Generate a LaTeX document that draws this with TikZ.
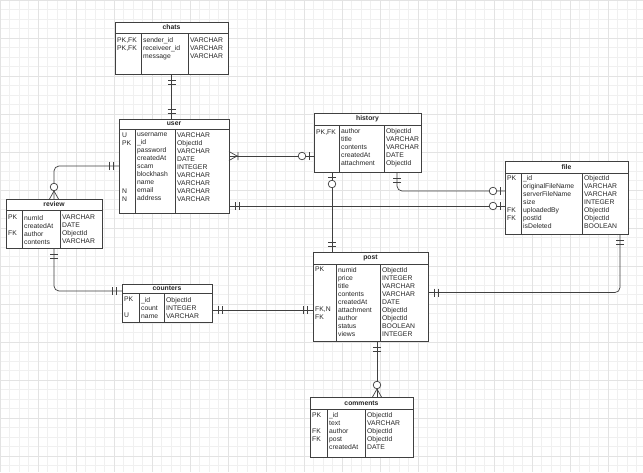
\documentclass[tikz,border=0pt]{standalone}
\usepackage{fontspec}
\setmainfont{Liberation Sans}
\newcommand\erfont{\fontsize{6.8}{8}\selectfont}
\begin{document}
\begin{tikzpicture}[x=1pt,y=-1pt,
  gridln/.style={gray!12,line width=0.4pt},
  gridmj/.style={gray!22,line width=0.4pt},
  rel/.style={draw=black!75,line width=0.7pt},
  tbl/.style={draw=black!75,line width=0.7pt,fill=white,anchor=north west,inner sep=0pt,outer sep=0pt},
  ttl/.style={font=\erfont\bfseries,text=black!85,inner sep=0pt},
  col/.style={anchor=north west,inner sep=0pt,align=left,font=\erfont,text=black!85,execute at begin node=\strut},
  mone/.pic={\draw[rel] (6,-4)--(6,4) (10,-4)--(10,4);},
  zone/.pic={\draw[rel] (5,-4)--(5,4); \draw[rel,fill=white] (12,0) circle[radius=3.8];},
  zmany/.pic={\draw[rel] (0,-4.5)--(8,0)--(0,4.5); \draw[rel,fill=white] (12,0) circle[radius=3.8];},
  omany/.pic={\draw[rel] (0,-4.5)--(8,0)--(0,4.5) (9,-4)--(9,4);}]
\fill[white] (0,0) rectangle (643,472);
\useasboundingbox (0,0) rectangle (643,472);
\foreach \g in {0,9.5,...,643} \draw[gridln] (\g,0) -- (\g,472);
\foreach \g in {0,9.5,...,472} \draw[gridln] (0,\g) -- (643,\g);
\foreach \g in {0,38,...,643} \draw[gridmj] (\g,0) -- (\g,472);
\foreach \g in {0,38,...,472} \draw[gridmj] (0,\g) -- (643,\g);

% chats
\node[tbl,minimum width=113pt,minimum height=52pt] (chats) at (115,22) {};
\node[ttl] (chats-t) at ([yshift=-5.5pt]chats.north) {chats};
\draw[rel] (115,33) -- (228,33) (141,33) -- (141,74) (188,33) -- (188,74);
\node[col] (chats-k) at (117,37.7) {PK,FK\\PK,FK};
\node[col] (chats-f) at (143,37.7) {sender\_id\\receiveer\_id\\message};
\node[col] (chats-d) at (190,37.7) {VARCHAR\\VARCHAR\\VARCHAR};

% user
\node[tbl,minimum width=110pt,minimum height=94pt] (user) at (119,119) {};
\node[ttl] (user-t) at ([yshift=-5pt]user.north) {user};
\draw[rel] (119,129) -- (229,129) (135,129) -- (135,213) (175,129) -- (175,213);
\node[col] (user-k) at (122,132.4) {U\\PK\\~\\~\\~\\~\\~\\N\\N};
\node[col] (user-f) at (137,132.4) {username\\\_id\\password\\createdAt\\scam\\blockhash\\name\\email\\address};
\node[col] (user-d) at (177,132.4) {VARCHAR\\ObjectId\\VARCHAR\\DATE\\INTEGER\\VARCHAR\\VARCHAR\\VARCHAR\\VARCHAR};

% history
\node[tbl,minimum width=107pt,minimum height=59pt] (history) at (314,113) {};
\node[ttl] (history-t) at ([yshift=-6pt]history.north) {history};
\draw[rel] (314,125) -- (421,125) (339,125) -- (339,172) (384,125) -- (384,172);
\node[col] (history-k) at (316,128.2) {PK,FK};
\node[col] (history-f) at (341,128.2) {author\\title\\contents\\createdAt\\attachment};
\node[col] (history-d) at (386,128.2) {ObjectId\\VARCHAR\\VARCHAR\\DATE\\ObjectId};

% file
\node[tbl,minimum width=123pt,minimum height=73pt] (file) at (505,161) {};
\node[ttl] (file-t) at ([yshift=-6pt]file.north) {file};
\draw[rel] (505,173) -- (628,173) (521,173) -- (521,234) (582,173) -- (582,234);
\node[col] (file-k) at (507,175.7) {PK\\~\\~\\~\\FK\\FK};
\node[col] (file-f) at (523,175.7) {\_id\\originalFileName\\serverFileName\\size\\uploadedBy\\postId\\isDeleted};
\node[col] (file-d) at (584,175.7) {ObjectId\\VARCHAR\\VARCHAR\\INTEGER\\ObjectId\\ObjectId\\BOOLEAN};

% review
\node[tbl,minimum width=96pt,minimum height=49pt] (review) at (6,199) {};
\node[ttl] (review-t) at ([yshift=-5.5pt]review.north) {review};
\draw[rel] (6,210) -- (102,210) (22,210) -- (22,248) (60,210) -- (60,248);
\node[col] (review-k) at (8,214.9) {PK\\~\\FK};
\node[col] (review-f) at (24,214.9) {numId\\createdAt\\author\\contents};
\node[col] (review-d) at (62,214.9) {VARCHAR\\DATE\\ObjectId\\VARCHAR};

% counters
\node[tbl,minimum width=90pt,minimum height=38pt] (counters) at (122,284) {};
\node[ttl] (counters-t) at ([yshift=-4.5pt]counters.north) {counters};
\draw[rel] (122,293) -- (212,293) (139,293) -- (139,322) (164,293) -- (164,322);
\node[col] (counters-k) at (124,297) {PK\\~\\U};
\node[col] (counters-f) at (141,297) {\_id\\count\\name};
\node[col] (counters-d) at (166,297) {ObjectId\\INTEGER\\VARCHAR};

% post
\node[tbl,minimum width=115pt,minimum height=89pt] (post) at (313,252) {};
\node[ttl] (post-t) at ([yshift=-6pt]post.north) {post};
\draw[rel] (313,264) -- (428,264) (336,264) -- (336,341) (380,264) -- (380,341);
\node[col] (post-k) at (315,267) {PK\\~\\~\\~\\~\\FK,N\\FK};
\node[col] (post-f) at (338,267) {numid\\price\\title\\contents\\createdAt\\attachment\\author\\status\\views};
\node[col] (post-d) at (382,267) {ObjectId\\INTEGER\\VARCHAR\\VARCHAR\\DATE\\ObjectId\\ObjectId\\BOOLEAN\\INTEGER};

% comments
\node[tbl,minimum width=103pt,minimum height=60pt] (comments) at (310,397) {};
\node[ttl] (comments-t) at ([yshift=-6pt]comments.north) {comments};
\draw[rel] (310,409) -- (413,409) (327,409) -- (327,457) (365,409) -- (365,457);
\node[col] (comments-k) at (312,412.7) {PK\\~\\FK\\FK};
\node[col] (comments-f) at (329,412.7) {\_id\\text\\author\\post\\createdAt};
\node[col] (comments-d) at (367,412.7) {ObjectId\\VARCHAR\\ObjectId\\ObjectId\\DATE};

% connector ends
\coordinate (cu) at (chats.south |- user.north);
\coordinate (uh) at ([yshift=10pt]user.east);
\coordinate (hu) at (uh -| history.west);
\coordinate (uf) at ([yshift=-40pt]user.east);
\coordinate (fu) at (uf -| file.west);
\coordinate (hf) at ([xshift=-24pt]history.south east);
\coordinate (fh) at ([yshift=6.5pt]file.west);
\coordinate (hp) at ([xshift=18pt]history.south west);
\coordinate (ph) at (hp |- post.north);
\coordinate (cp) at ([yshift=-7pt]counters.east);
\coordinate (pc) at (cp -| post.west);
\coordinate (cr) at ([yshift=12pt]counters.west);
\coordinate (pf) at ([yshift=4pt]post.east);
\coordinate (fp) at ([xshift=-8pt]file.south east);
\coordinate (pm) at ([xshift=-51pt]post.south east);
\coordinate (mp) at (pm |- comments.north);

% relations
\draw[rel] (chats.south) -- (cu);
\draw[rel] (uh) -- (hu);
\draw[rel] (uf) -- (fu);
\draw[rel,rounded corners=5pt] (user.west) -| (review.north);
\draw[rel,rounded corners=5pt] (hf) |- (fh);
\draw[rel] (hp) -- (ph);
\draw[rel] (cp) -- (pc);
\draw[rel,rounded corners=5pt] (review.south) |- (cr);
\draw[rel,rounded corners=5pt] (pf) -| (fp);
\draw[rel] (pm) -- (mp);

% cardinality marks
\foreach \p/\r in {chats.south/-90,cu/90,uf/0,user.west/180,hf/-90,ph/90,cp/0,pc/180,review.south/-90,cr/180,pf/0,fp/-90,pm/-90}
  \pic[rotate=\r] at (\p) {mone};
\foreach \p/\r in {hu/180,fu/180,fh/180,hp/-90}
  \pic[rotate=\r] at (\p) {zone};
\foreach \p/\r in {review.north/90,mp/90}
  \pic[rotate=\r] at (\p) {zmany};
\pic at (uh) {omany};
\end{tikzpicture}
\end{document}
